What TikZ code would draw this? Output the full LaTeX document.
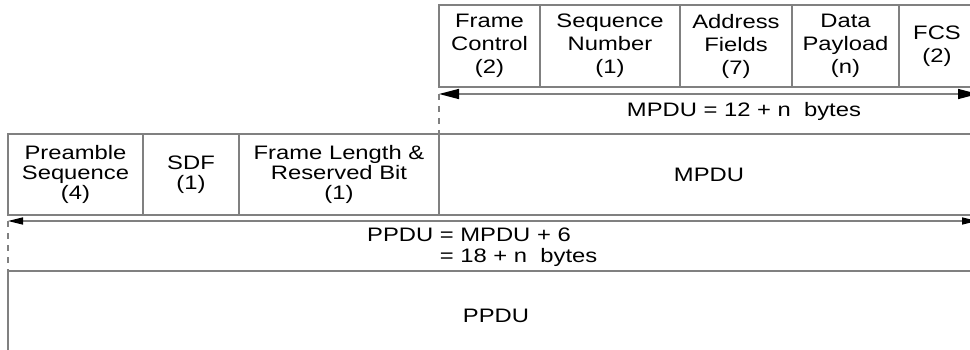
\documentclass[tikz,border=0pt]{standalone}
\usepackage{fontspec}
\setmainfont{Liberation Sans}[FakeStretch=1.22]
\usetikzlibrary{positioning, arrows.meta}
\definecolor{rulegray}{RGB}{128,128,128}

\begin{document}
\begin{tikzpicture}[
    x=1pt, y=-1pt,
    field/.style={rectangle, draw=rulegray, line width=1.5pt, minimum height=82pt, inner sep=0pt, outer sep=0pt, align=center, font=\fontsize{19.5}{23}\selectfont},
    lowfield/.style={field, minimum height=81pt, font=\fontsize{19.5}{20}\selectfont},
    note/.style={inner sep=0pt, align=left, font=\fontsize{19.5}{20.5}\selectfont},
    bigspan/.style={draw=rulegray, line width=1.5pt, arrows={Triangle[length=20pt,width=10pt,color=black]-Triangle[length=20pt,width=10pt,color=black]}},
    smallspan/.style={draw=rulegray, line width=1.5pt, arrows={Triangle[length=15pt,width=7pt,color=black]-Triangle[length=15pt,width=7pt,color=black]}},
    guide/.style={draw=rulegray, line width=1.5pt, dash pattern=on 6pt off 6pt}
]
\useasboundingbox (0,0) rectangle (970,350);

% MAC frame
\node[field, anchor=north west, minimum width=101pt] (fc) at (439,5) {Frame\\Control\\(2)};
\node[field, minimum width=140pt, right=0pt of fc] (seqnum) {Sequence\\Number\\(1)};
\node[field, minimum width=112pt, right=0pt of seqnum] (addr) {Address\\Fields\\(7)};
\node[field, minimum width=107pt, right=0pt of addr] (payload) {Data\\Payload\\(n)};
\node[field, minimum width=76pt, right=0pt of payload] (fcs) {FCS\\(2)};

% PHY frame
\node[lowfield, anchor=north west, minimum width=135pt] (preamble) at (8,134) {Preamble\\Sequence\\(4)};
\node[lowfield, minimum width=96pt, right=0pt of preamble] (sdf) {SDF\\(1)};
\node[lowfield, minimum width=200pt, right=0pt of sdf] (framelen) {Frame Length \&\\Reserved Bit\\(1)};
\node[lowfield, minimum width=540pt, right=0pt of framelen] (mpdu) {MPDU};

% PPDU
\node[field, anchor=north west, minimum width=976pt, minimum height=90pt] (ppdu) at (8,271) {PPDU};

% Spans
\coordinate[below=7pt of fc.south west] (mpduL);
\coordinate (mpduR) at (978,94);
\coordinate[below=6pt of preamble.south west] (ppduL);
\coordinate (ppduR) at (977,221);

\node[note] (mpdulen) at (744,111) {MPDU = 12 + n\ \ bytes};
\node[note, anchor=west] (ppdulen) at (367,247) {PPDU = MPDU + 6\\\phantom{PPDU }= 18 + n\ \ bytes};

\draw[bigspan] (mpduL) -- (mpduR);
\draw[guide] (mpduL) -- (mpdu.north west);
\draw[smallspan] (ppduL) -- (ppduR);
\draw[guide] (ppduL) -- (ppdu.north west);

\end{tikzpicture}
\end{document}
